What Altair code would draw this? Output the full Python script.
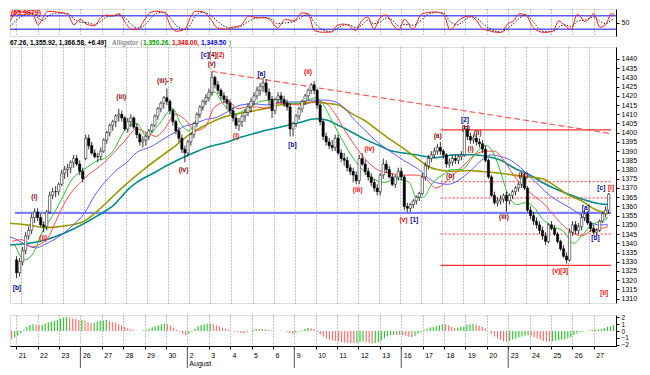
import altair as alt
import pandas as pd

# ---------------- data ----------------
day_labels = ["21", "22", "23", "26", "27", "28", "29", "30", "2", "3", "4", "5", "6", "9",
              "10", "11", "12", "13", "16", "17", "18", "19", "20", "23", "24", "25", "26", "27"]
week_starts = [3, 8, 13, 18, 23]

# July 20 (last two hourly bars) then 28 sessions x 7 hourly bars
bar_day = [-1, -1] + [d for d in range(28) for _ in range(7)]
bar_slot = [5, 6] + [s for _ in range(28) for s in range(7)]

opens = [1331, 1324,
         1330, 1336, 1344, 1347, 1354, 1357, 1354,
         1350, 1349, 1357, 1366, 1368, 1368, 1372,
         1378, 1380, 1381, 1384, 1386, 1383, 1379,
         1386, 1397, 1393, 1389, 1387, 1387, 1390,
         1396, 1400, 1404, 1406, 1409, 1410, 1408,
         1402, 1406, 1408, 1403, 1399, 1395, 1396,
         1398, 1401, 1404, 1409, 1413, 1416, 1419,
         1417, 1412, 1406, 1401, 1397, 1391, 1389,
         1395, 1399, 1405, 1410, 1414, 1417, 1419,
         1422, 1430, 1426, 1423, 1420, 1418, 1416,
         1412, 1408, 1404, 1406, 1409, 1411, 1414,
         1417, 1420, 1423, 1425, 1427, 1422, 1418,
         1412, 1418, 1420, 1418, 1416, 1414, 1402,
         1405, 1409, 1413, 1417, 1420, 1423, 1426,
         1423, 1415, 1406, 1398, 1395, 1393, 1392,
         1397, 1389, 1386, 1385, 1381, 1379, 1377,
         1374, 1386, 1383, 1379, 1376, 1373, 1370,
         1368, 1377, 1383, 1380, 1376, 1372, 1376,
         1379, 1376, 1360, 1359, 1361, 1363, 1365,
         1367, 1376, 1382, 1386, 1388, 1390, 1392,
         1390, 1388, 1383, 1384, 1386, 1385, 1387,
         1388, 1402, 1398, 1396, 1397, 1395, 1394,
         1391, 1385, 1376, 1366, 1362, 1363, 1364,
         1366, 1363, 1366, 1368, 1370, 1372, 1376,
         1370, 1358, 1355, 1352, 1350, 1347, 1344,
         1341, 1350, 1348, 1345, 1341, 1337, 1333,
         1331, 1346, 1350, 1347, 1349, 1354, 1356,
         1351, 1348, 1346, 1347, 1352, 1356, 1358]
highs = [1333, 1332,
         1338, 1346, 1349, 1356, 1359, 1359, 1356,
         1352, 1358, 1368, 1370, 1371, 1373, 1380,
         1382, 1383, 1385, 1388, 1388, 1385, 1381,
         1399, 1399, 1395, 1391, 1389, 1392, 1397,
         1401, 1405, 1407, 1410, 1413, 1412, 1409,
         1408, 1410, 1409, 1405, 1400, 1398, 1400,
         1402, 1405, 1410, 1414, 1417, 1420, 1424,
         1418, 1413, 1407, 1403, 1399, 1393, 1396,
         1400, 1406, 1411, 1415, 1418, 1421, 1424,
         1433, 1431, 1428, 1424, 1422, 1420, 1418,
         1414, 1410, 1408, 1410, 1413, 1416, 1419,
         1422, 1425, 1427, 1430, 1429, 1424, 1420,
         1419, 1422, 1422, 1420, 1418, 1416, 1406,
         1410, 1414, 1418, 1421, 1424, 1427, 1428,
         1424, 1416, 1407, 1400, 1397, 1396, 1399,
         1399, 1391, 1389, 1387, 1383, 1381, 1379,
         1388, 1389, 1385, 1381, 1378, 1375, 1372,
         1378, 1386, 1385, 1382, 1378, 1377, 1381,
         1381, 1377, 1362, 1362, 1364, 1366, 1368,
         1378, 1384, 1388, 1390, 1392, 1394, 1395,
         1391, 1389, 1386, 1388, 1388, 1388, 1390,
         1404, 1404, 1400, 1399, 1399, 1397, 1396,
         1393, 1386, 1377, 1368, 1365, 1366, 1367,
         1368, 1367, 1369, 1371, 1373, 1378, 1378,
         1371, 1360, 1357, 1354, 1352, 1349, 1346,
         1351, 1352, 1350, 1346, 1342, 1339, 1335,
         1348, 1352, 1352, 1351, 1356, 1358, 1357,
         1352, 1350, 1348, 1353, 1357, 1360, 1367.26]
lows = [1321, 1322,
        1328, 1334, 1342, 1345, 1351, 1352, 1349,
        1346, 1347, 1356, 1364, 1365, 1366, 1371,
        1375, 1376, 1378, 1381, 1382, 1377, 1373,
        1385, 1391, 1388, 1386, 1384, 1385, 1389,
        1394, 1398, 1401, 1403, 1406, 1406, 1401,
        1400, 1403, 1402, 1397, 1393, 1392, 1393,
        1396, 1400, 1403, 1407, 1411, 1413, 1415,
        1410, 1404, 1399, 1395, 1389, 1384, 1387,
        1393, 1397, 1403, 1408, 1412, 1415, 1417,
        1420, 1424, 1421, 1418, 1416, 1413, 1410,
        1406, 1402, 1401, 1403, 1406, 1409, 1411,
        1415, 1418, 1420, 1422, 1420, 1415, 1408,
        1410, 1416, 1416, 1414, 1412, 1398, 1398,
        1403, 1407, 1411, 1415, 1418, 1421, 1421,
        1413, 1404, 1396, 1393, 1391, 1390, 1390,
        1388, 1384, 1382, 1379, 1377, 1373, 1372,
        1372, 1382, 1377, 1374, 1371, 1368, 1366,
        1366, 1375, 1378, 1375, 1371, 1370, 1374,
        1374, 1358, 1357, 1357, 1359, 1361, 1363,
        1366, 1374, 1380, 1384, 1386, 1388, 1388,
        1386, 1381, 1381, 1382, 1383, 1383, 1385,
        1387, 1396, 1394, 1394, 1393, 1392, 1389,
        1384, 1375, 1365, 1361, 1360, 1361, 1362,
        1357, 1361, 1364, 1366, 1368, 1370, 1369,
        1357, 1353, 1350, 1348, 1345, 1342, 1339,
        1340, 1347, 1344, 1340, 1336, 1332, 1329,
        1330, 1344, 1345, 1345, 1347, 1352, 1350,
        1346, 1345, 1344, 1346, 1351, 1354, 1355.92]
closes = [1324, 1330,
          1336, 1344, 1347, 1354, 1357, 1354, 1350,
          1349, 1357, 1366, 1368, 1368, 1372, 1378,
          1380, 1381, 1384, 1386, 1383, 1379, 1375,
          1397, 1393, 1389, 1387, 1387, 1390, 1396,
          1400, 1404, 1406, 1409, 1410, 1408, 1402,
          1406, 1408, 1403, 1399, 1395, 1396, 1398,
          1401, 1404, 1409, 1413, 1416, 1419, 1417,
          1412, 1406, 1401, 1397, 1391, 1389, 1395,
          1399, 1405, 1410, 1414, 1417, 1419, 1422,
          1430, 1426, 1423, 1420, 1418, 1416, 1412,
          1408, 1404, 1406, 1409, 1411, 1414, 1417,
          1420, 1423, 1425, 1427, 1422, 1418, 1412,
          1418, 1420, 1418, 1416, 1414, 1402, 1405,
          1409, 1413, 1417, 1420, 1423, 1426, 1423,
          1415, 1406, 1398, 1395, 1393, 1392, 1397,
          1389, 1386, 1385, 1381, 1379, 1377, 1374,
          1386, 1383, 1379, 1376, 1373, 1370, 1368,
          1377, 1383, 1380, 1376, 1372, 1376, 1379,
          1376, 1360, 1359, 1361, 1363, 1365, 1367,
          1376, 1382, 1386, 1388, 1390, 1392, 1390,
          1388, 1383, 1384, 1386, 1385, 1387, 1388,
          1402, 1398, 1396, 1397, 1395, 1394, 1391,
          1385, 1376, 1366, 1362, 1363, 1364, 1366,
          1363, 1366, 1368, 1370, 1372, 1376, 1370,
          1358, 1355, 1352, 1350, 1347, 1344, 1341,
          1350, 1348, 1345, 1341, 1337, 1333, 1331,
          1346, 1350, 1347, 1349, 1354, 1356, 1351,
          1348, 1346, 1347, 1352, 1356, 1358, 1366.58]

# oscillator histogram (one value per bar)
hist_vals = [-1.15, -1.0,
             -0.7, -0.3, 0.2, 0.6, 0.9, 1.0, 0.95,
             0.9, 0.9, 1.1, 1.3, 1.4, 1.5, 1.6,
             1.8, 2.0, 2.1, 2.0, 1.85, 1.75, 1.6,
             1.6, 1.55, 1.3, 1.15, 1.2, 1.4, 1.5,
             1.55, 1.6, 1.45, 1.3, 1.2, 1.0, 0.8,
             0.6, 0.4, 0.25, 0.1, 0.05, 0.0, 0.1,
             0.2, 0.35, 0.55, 0.7, 0.85, 1.0, 1.1,
             1.0, 0.8, 0.5, 0.2, -0.1, -0.4, -0.6,
             -0.45, -0.1, 0.3, 0.7, 0.9, 1.0, 1.05,
             1.1, 1.0, 0.85, 0.7, 0.5, 0.35, 0.2,
             0.0, -0.1, -0.2, -0.3, -0.35, -0.2, 0.0,
             0.2, 0.35, 0.3, 0.3, 0.25, 0.2, 0.1,
             0.05, 0.0, 0.05, 0.0, -0.1, -0.3, -0.45,
             -0.3, -0.1, 0.1, 0.3, 0.45, 0.4, 0.3,
             -0.1, -0.5, -0.8, -1.1, -1.3, -1.4, -1.45,
             -1.5, -1.6, -1.7, -1.75, -1.8, -1.85, -1.8,
             -1.6, -1.5, -1.6, -1.7, -1.8, -1.75, -1.6,
             -1.4, -1.1, -0.8, -0.6, -0.55, -0.6, -0.5,
             -0.6, -0.7, -0.85, -0.9, -0.7, -0.4, -0.2,
             0.1, 0.3, 0.5, 0.6, 0.7, 0.85, 1.0,
             0.95, 0.8, 0.6, 0.45, 0.5, 0.6, 0.7,
             0.9, 1.0, 1.05, 0.95, 0.8, 0.6, 0.4,
             0.0, -0.4, -0.8, -1.1, -1.3, -1.5, -1.6,
             -1.5, -1.3, -1.1, -0.9, -0.8, -0.7, -0.6,
             -0.7, -0.9, -1.1, -1.3, -1.45, -1.55, -1.6,
             -1.5, -1.4, -1.35, -1.3, -1.25, -1.1, -0.9,
             -0.6, -0.35, -0.2, -0.1, 0.0, 0.1, 0.2,
             0.2, 0.25, 0.3, 0.45, 0.6, 0.7, 0.85]

# stochastic oscillator (x in trading-day units)
stoch_x = [-0.66, -0.51, -0.28, 0.01, 0.39, 0.78, 1.03, 1.26, 1.45, 1.93,
           2.41, 2.70, 2.99, 3.28, 3.66, 3.95, 4.24, 4.52, 4.81, 5.10,
           5.39, 5.68, 5.97, 6.25, 6.54, 6.93, 7.21, 7.50, 7.89, 8.18,
           8.37, 8.75, 9.04, 9.42, 9.81, 10.10, 10.48, 10.87, 11.26, 11.63,
           11.92, 12.21, 12.59, 12.98, 13.36, 13.65, 13.94, 14.32, 14.71, 15.00,
           15.28, 15.57, 15.86, 16.15, 16.44, 16.72, 17.01, 17.30, 17.59, 17.88,
           18.16, 18.55, 18.93, 19.22, 19.61, 19.99, 20.28, 20.66, 20.95, 21.24,
           21.53, 21.81, 22.10, 22.39, 22.68, 22.97, 23.25, 23.54, 23.83, 24.12,
           24.41, 24.69, 25.08, 25.37, 25.66, 25.94, 26.23, 26.62, 27.00, 27.29,
           27.58, 27.81, 27.96]
stoch_k = [31, 17, 57, 97, 97, 86, 40, 71, 100, 96,
           86, 40, 64, 43, 36, 71, 83, 79, 89, 50,
           20, 20, 57, 93, 100, 93, 36, 11, 21, 79,
           100, 97, 71, 26, 20, 29, 36, 79, 71, 71,
           57, 26, 64, 57, 93, 89, 14, 7, 7, 36,
           43, 36, 14, 57, 74, 21, 71, 83, 43, 17,
           64, 20, 86, 94, 97, 86, 17, 57, 74, 79,
           57, 21, 14, 7, 6, 43, 57, 89, 83, 36,
           11, 6, 11, 57, 36, 17, 86, 54, 89, 29,
           43, 89, 86]
stoch_d = [40, 28, 35, 60, 85, 92, 70, 60, 75, 92,
           90, 65, 52, 50, 42, 55, 75, 80, 85, 70,
           40, 25, 35, 65, 90, 96, 70, 35, 20, 45,
           80, 95, 85, 55, 30, 25, 32, 55, 70, 72,
           65, 45, 48, 55, 75, 88, 50, 18, 10, 22,
           38, 40, 28, 38, 60, 45, 52, 70, 60, 35,
           42, 38, 60, 85, 94, 92, 55, 40, 60, 75,
           70, 45, 25, 12, 8, 25, 45, 70, 85, 60,
           25, 10, 9, 30, 40, 30, 55, 62, 75, 55,
           45, 60, 66]

# moving-average lines (x in trading-day units)
green_x = [-0.29, 0.17, 0.59, 1.00, 1.33, 1.65, 1.88, 2.44, 2.99, 3.36, 3.64, 3.97, 4.43, 4.75,
           5.03, 5.50, 5.96, 6.51, 7.21, 7.58, 7.99, 8.46, 8.92, 9.20, 9.52, 10.12, 10.59, 11.05,
           11.38, 12.16, 12.62, 13.09, 13.69, 14.01, 14.48, 14.75, 15.22, 15.68, 16.14, 16.61,
           17.25, 17.86, 18.46, 18.78, 19.11, 19.57, 20.03, 20.50, 20.96, 21.42, 21.88, 22.12,
           22.49, 22.81, 23.09, 23.55, 24.01, 24.34, 24.80, 25.26, 25.73, 26.28, 26.65, 27.12,
           27.58, 27.90]
green_v = [1339, 1331, 1335, 1346, 1352, 1358, 1363, 1375, 1380, 1383, 1385, 1386, 1391, 1398,
           1403, 1405, 1398, 1404, 1413, 1405, 1401, 1410, 1420, 1422, 1417, 1410, 1412, 1415,
           1417, 1418, 1416, 1416, 1418, 1419, 1413, 1407, 1397, 1388, 1381, 1376,
           1373, 1375, 1373, 1365, 1365, 1373, 1377, 1380, 1380, 1386, 1392, 1393,
           1388, 1378, 1368, 1361, 1362, 1360, 1353, 1349, 1347, 1340, 1344, 1350,
           1352, 1354]
red_x = [-0.43, 0.03, 0.50, 0.96, 1.28, 1.65, 2.12, 2.99, 3.97, 4.89, 5.50, 5.96, 6.42, 6.75,
         7.35, 7.81, 8.27, 8.74, 9.20, 9.85, 10.31, 10.77, 11.24, 11.70, 12.16, 12.62, 13.23,
         13.69, 14.06, 14.48, 14.94, 15.40, 15.87, 16.33, 16.93, 17.53, 18.18, 18.78, 19.25,
         19.71, 20.17, 20.63, 21.10, 21.56, 22.12, 22.49, 22.95, 23.41, 23.87, 24.34, 24.80,
         25.26, 25.73, 26.19, 26.65, 27.12, 27.58, 27.90]
red_v = [1341, 1342, 1338, 1340, 1343, 1352, 1363, 1375, 1384, 1395, 1402, 1400, 1398, 1401,
         1410, 1407, 1401, 1403, 1414, 1417, 1413, 1414, 1414, 1413, 1416, 1416, 1415,
         1416, 1417, 1416, 1410, 1401, 1393, 1386, 1380, 1378, 1377, 1377, 1375,
         1370, 1373, 1378, 1383, 1388, 1390, 1390, 1385, 1377, 1371, 1366, 1362,
         1356, 1350, 1346, 1344, 1347, 1348, 1349]
blue_x = [-0.66, -0.20, 0.26, 0.73, 1.05, 1.65, 2.44, 2.99, 3.50, 3.97, 4.57, 5.13, 5.36, 6.28,
          6.75, 7.35, 7.67, 8.27, 8.92, 9.20, 9.85, 10.44, 11.05, 11.70, 12.44, 13.23, 13.83,
          14.48, 14.94, 15.40, 15.87, 16.33, 16.93, 17.53, 18.18, 18.78, 19.71, 20.31, 20.77,
          21.42, 21.88, 22.35, 22.81, 23.27, 23.74, 24.20, 24.66, 25.12, 25.58, 26.04, 26.51,
          26.97, 27.44, 27.90]
blue_v = [1344, 1342, 1339, 1337.5, 1339, 1342.5, 1349.5, 1356, 1366, 1373, 1380, 1385, 1388, 1393,
          1396.5, 1400.5, 1403, 1405, 1407.6, 1408, 1411.6, 1415, 1415.7, 1415, 1416.7, 1416.7, 1417.7,
          1417.7, 1416.7, 1413, 1406.6, 1401.5, 1395, 1390, 1385, 1381, 1373, 1372, 1374,
          1380, 1385, 1388, 1387, 1385, 1381, 1376, 1371, 1366, 1362.6, 1359.6, 1356,
          1352, 1350, 1350]
olive_x = [-0.66, 0.26, 1.19, 2.12, 2.99, 3.64, 4.29, 4.89, 5.82, 6.75, 7.35, 7.99, 8.92, 9.52,
           10.44, 11.38, 12.30, 13.23, 14.01, 14.48, 15.08, 15.68, 16.33, 16.93, 17.53, 18.18,
           18.78, 19.38, 20.03, 20.63, 21.24, 21.88, 22.81, 23.41, 24.20, 24.80, 25.40, 26.04,
           26.65, 27.25, 27.90]
olive_v = [1351, 1350, 1348.5, 1349.5, 1352, 1357.6, 1364.6, 1371, 1380, 1388, 1393, 1399, 1405, 1408,
           1410.6, 1412.6, 1415, 1415.7, 1416.7, 1416, 1415, 1410.6, 1406.6, 1401.5, 1396.5, 1391.4,
           1386.5, 1381.5, 1379.5, 1379, 1379.5, 1379, 1378, 1377, 1376, 1375, 1371, 1366,
           1363, 1358.6, 1356]
teal_x = [-0.66, 0.87, 2.44, 3.64, 4.43, 5.13, 5.50, 6.28, 7.07, 7.99, 8.92, 9.52, 10.44, 11.38,
          12.30, 13.23, 14.01, 14.48, 15.08, 15.68, 16.33, 16.93, 17.53, 18.18, 18.78, 19.71,
          20.63, 21.56, 22.16, 22.81, 23.41, 24.20, 24.94, 25.73, 26.51, 27.25, 27.90]
teal_v = [1339, 1341, 1347.5, 1355, 1361, 1369.7, 1373, 1378, 1383, 1388, 1392.4, 1394, 1397.5, 1400.5,
          1403, 1405.5, 1407.6, 1407, 1404, 1400.5, 1396.5, 1393.5, 1390.4, 1389, 1388, 1386.5,
          1388, 1388, 1387, 1385, 1381, 1377, 1372, 1368, 1364.6, 1362, 1361]

# horizontal levels and trend line
level_start = [-0.29, 19.94, 19.94, 19.94, 19.94, 19.94]
level_end = [28.04, 28.04, 28.04, 28.04, 28.04, 28.04]
level_price = [1356.5, 1401.5, 1328.0, 1373.4, 1364.6, 1345.0]
level_kind = ["blue", "red", "red", "dot", "dot", "dot"]
trend_x = [9.06, 28.04]
trend_v = [1433.3, 1399.5]

# wave labels
ann_x = [-0.20, 0.63, 1.05, 4.76, 6.84, 7.72, 9.06, 8.74, 9.11, 9.48, 10.22, 11.42, 12.90,
         13.64, 16.00, 16.56, 18.18, 18.69, 19.80, 20.40, 21.10, 21.14, 21.70, 21.37, 22.95,
         23.87, 25.63, 26.84, 27.30, 27.58, 28.04, 27.72]
ann_v = [1315.7, 1365.2, 1342.9, 1419.2, 1428.3, 1379.8, 1437.4, 1441.9, 1441.9, 1441.9, 1398.0,
         1431.8, 1393.4, 1432.8, 1368.7, 1391.4, 1352.5, 1352.5, 1398.0, 1376.3, 1407.1, 1402.5,
         1400.0, 1391.4, 1354.5, 1377.3, 1324.7, 1359.1, 1342.9, 1370.2, 1370.2, 1313.1]
ann_text = ["[b]", "(i)", "(ii)", "(iii)", "(iii)-?", "(iv)", "(v)", "[c]", "[4]", "(2)", "(i)",
            "[a]", "[b]", "(ii)", "(iii)", "(iv)", "(v)", "[1]", "(a)", "(b)", "[2]", "(c)",
            "(ii)", "(i)", "(iii)", "(iv)", "(v)[3]", "[a]", "[b]", "[c]", "[i]", "[ii]"]
ann_col = ["b", "dr", "r", "dr", "dr", "dr", "dr", "b", "dr", "r", "r",
           "b", "b", "r", "r", "r", "r", "b", "dr", "dr", "b", "dr",
           "dr", "dr", "dr", "dr", "r", "b", "b", "b", "r", "r"]

# ---------------- frames ----------------
bar_x = [d + (s + 0.5) / 7 for d, s in zip(bar_day, bar_slot)]
cdf = pd.DataFrame({"x": bar_x, "o": opens, "h": highs, "l": lows, "c": closes})
hdf = pd.DataFrame({"x": bar_x, "v": hist_vals})
hdf["col"] = ["up" if i > 0 and hist_vals[i] >= hist_vals[i - 1] else "down" for i in range(len(hist_vals))]
hdf["z"] = 0.0
sdf = pd.DataFrame({"x": stoch_x, "k": stoch_k, "d": stoch_d})
lvl = pd.DataFrame({"x0": level_start, "x1": level_end, "y": level_price, "kind": level_kind})
tdf = pd.DataFrame({"x0": [trend_x[0]], "x1": [trend_x[1]], "y0": [trend_v[0]], "y1": [trend_v[1]]})
adf = pd.DataFrame({"x": ann_x, "y": ann_v, "t": ann_text, "c": ann_col})

W = 606
H_ST, H_MAIN, H_HIST = 27, 256, 31
FONT = "Liberation Sans"

xs = alt.Scale(domain=[-0.29, 28.04], nice=False, zero=False)
grid_axis = alt.Axis(values=list(range(28)), labels=False, ticks=False, domain=False, title=None,
                     grid=True, gridDash=[1, 2], gridColor="#8a8a8a", gridWidth=1)


def X(field="x"):
    return alt.X(f"{field}:Q", scale=xs, axis=grid_axis)


# ---------------- stochastic panel ----------------
ys_st = alt.Scale(domain=[-10, 110], nice=False, zero=False)
y_ax_st = alt.Axis(orient="right", values=[50], title=None, labelFontSize=7, tickSize=3,
                   labelPadding=2, grid=False, domainColor="#000", tickColor="#000", labelFont=FONT)
st_lines = alt.Chart(pd.DataFrame({"x0": [-0.29, -0.29], "x1": [28.04, 28.04], "y": [80, 20]})).mark_rule(
    color="#5b5bff", strokeWidth=1.5).encode(x=X("x0"), x2="x1:Q", y=alt.Y("y:Q", scale=ys_st, axis=y_ax_st))
st_d = alt.Chart(sdf).mark_line(color="#222222", strokeWidth=1, strokeDash=[1.5, 1.5],
                                interpolate="monotone", clip=True).encode(
    x=X(), y=alt.Y("d:Q", scale=ys_st, axis=y_ax_st))
st_k = alt.Chart(sdf).mark_line(color="#ff1a1a", strokeWidth=1, interpolate="monotone", clip=True).encode(
    x=X(), y=alt.Y("k:Q", scale=ys_st, axis=y_ax_st))
st_lab = alt.Chart(pd.DataFrame({"t": ["(65.9979)"]})).mark_text(
    color="#ff0000", fontSize=7, fontWeight="bold", align="left", baseline="top", font=FONT).encode(
    x=alt.value(1), y=alt.value(0), text="t:N")
stoch = alt.layer(st_lines, st_d, st_k, st_lab).properties(width=W, height=H_ST)

# ---------------- main price panel ----------------
ys_m = alt.Scale(domain=[1307.6, 1446.5], nice=False, zero=False)
y_ax_m = alt.Axis(orient="right", values=list(range(1310, 1441, 5)), format="d", title=None, labelFontSize=7,
                  tickSize=3, labelPadding=2, grid=False, domainColor="#000", tickColor="#000",
                  labelColor="#000", labelFont=FONT)


def Y(field):
    return alt.Y(f"{field}:Q", scale=ys_m, axis=y_ax_m)


blue_lvl = alt.Chart(lvl).transform_filter("datum.kind == 'blue'").mark_rule(
    color="#7c7cff", strokeWidth=2.2).encode(x=X("x0"), x2="x1:Q", y=Y("y"))
red_lvl = alt.Chart(lvl).transform_filter("datum.kind == 'red'").mark_rule(
    color="#ff3030", strokeWidth=1.2).encode(x=X("x0"), x2="x1:Q", y=Y("y"))
dot_lvl = alt.Chart(lvl).transform_filter("datum.kind == 'dot'").mark_rule(
    color="#ff3030", strokeWidth=1, strokeDash=[2, 2]).encode(x=X("x0"), x2="x1:Q", y=Y("y"))
trend = alt.Chart(tdf).mark_rule(color="#ff5a5a", strokeWidth=1.2, strokeDash=[6, 3]).encode(
    x=X("x0"), x2="x1:Q", y=Y("y0"), y2="y1:Q")


def ma(xv, yv, color, w):
    return alt.Chart(pd.DataFrame({"x": xv, "v": yv})).mark_line(
        color=color, strokeWidth=w, interpolate="monotone", clip=True).encode(x=X(), y=Y("v"))


ma_teal = ma(teal_x, teal_v, "#008b8b", 1.6)
ma_olive = ma(olive_x, olive_v, "#9a9a00", 1.6)
ma_blue = ma(blue_x, blue_v, "#5a5aff", 1)
ma_red = ma(red_x, red_v, "#ff4a4a", 1)
ma_green = ma(green_x, green_v, "#2fc02f", 1)

wicks = alt.Chart(cdf).mark_rule(color="#000", strokeWidth=0.8, clip=True).encode(
    x=X(), y=Y("l"), y2="h:Q")
bodies = alt.Chart(cdf).mark_bar(size=2.3, stroke="#000", strokeWidth=0.5, clip=True).encode(
    x=X(), y=Y("o"), y2="c:Q",
    fill=alt.condition("datum.c >= datum.o", alt.value("#ffffff"), alt.value("#000000")))


def ann_layer(code, color):
    return alt.Chart(adf).transform_filter(f"datum.c == '{code}'").mark_text(
        fontSize=6.5, fontWeight="bold", font=FONT, color=color).encode(x=X(), y=Y("y"), text="t:N")


anns = [ann_layer("dr", "#8b0000"), ann_layer("r", "#ff0000"), ann_layer("b", "#000090")]


def head(txt, px, color):
    return alt.Chart(pd.DataFrame({"t": [txt]})).mark_text(
        fontSize=6.5, align="left", baseline="bottom", color=color, font=FONT, fontWeight="bold").encode(
        x=alt.value(px), y=alt.value(-1), text="t:N")


header = [head("67.26, 1,355.92, 1,366.58, +6.49]", 0, "#000000"),
          head("Alligator (", 102, "#909090"),
          head("1,350.26,", 133, "#00a000"),
          head("1,348.00,", 162, "#ff0000"),
          head("1,349.50", 191, "#0000ff"),
          head(")", 219, "#909090")]

main = alt.layer(blue_lvl, red_lvl, dot_lvl, trend, ma_teal, ma_olive, ma_blue, ma_red, ma_green,
                 wicks, bodies, *anns, *header).properties(width=W, height=H_MAIN)

# ---------------- histogram panel ----------------
ys_h = alt.Scale(domain=[-2.2, 2.35], nice=False, zero=False)
y_ax_h = alt.Axis(orient="right", values=[2, 1, 0, -1, -2], title=None, labelFontSize=6.5, tickSize=3,
                  labelPadding=2, grid=False, domainColor="#000", tickColor="#000", labelFont=FONT)
lab_expr = "[" + ",".join("'%s'" % s for s in day_labels) + "][datum.value]"
x_ax_h = alt.Axis(values=list(range(28)), labelExpr=lab_expr, title=None, grid=True, gridDash=[1, 2],
                  gridColor="#8a8a8a", labelAlign="left", labelOffset=2, labelPadding=2, tickSize=3,
                  labelFontSize=7, labelFont=FONT, domainColor="#000", tickColor="#000", labelColor="#000")
XH = alt.X("x:Q", scale=xs, axis=x_ax_h)
hbars = alt.Chart(hdf).mark_rule(strokeWidth=1.2, clip=True).encode(
    x=XH, y=alt.Y("v:Q", scale=ys_h, axis=y_ax_h), y2="z:Q",
    color=alt.condition("datum.col == 'up'", alt.value("#33c833"), alt.value("#ff7070")))
weeks = alt.Chart(pd.DataFrame({"x": week_starts})).mark_rule(color="#555", strokeWidth=1).encode(
    x=XH, y=alt.value(H_HIST), y2=alt.value(H_HIST + 22))
aug = alt.Chart(pd.DataFrame({"x": [8], "t": ["August"]})).mark_text(
    align="left", baseline="top", fontSize=7, dx=2, font=FONT, color="#000").encode(
    x=XH, y=alt.value(H_HIST + 14), text="t:N")
hist = alt.layer(hbars, weeks, aug).properties(width=W, height=H_HIST)

top = alt.vconcat(stoch, main, spacing=2)
chart = alt.vconcat(top, hist, spacing=9).properties(
    padding={"left": 0, "top": 0, "right": 2, "bottom": 0}
).configure_view(stroke="#6a6a6a", strokeWidth=1).configure(background="white")

chart.save("out.html", embed_options={"renderer": "svg", "actions": False})
